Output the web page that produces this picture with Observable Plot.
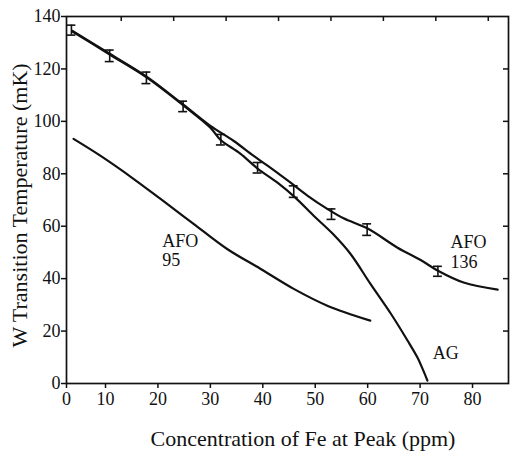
<!DOCTYPE html>
<html>
<head>
<meta charset="utf-8">
<script src="https://cdn.jsdelivr.net/npm/d3@7"></script>
<script src="https://cdn.jsdelivr.net/npm/@observablehq/plot@0.6"></script>
<style>
  html, body { margin: 0; padding: 0; background: #fff; }
</style>
</head>
<body>
<div id="chart"></div>
<script>
// ---- data ----
const afo136Conc = [3.7, 10.8, 17.9, 24.9, 30.0, 34.4, 38.2, 40.9, 45.3, 48.5, 52.3, 55.4, 60.0, 65.7, 70.1, 73.5, 78.3, 84.8];
const afo136Temp = [134.5, 125.8, 117.0, 106.3, 98.3, 92.6, 86.9, 83.1, 76.6, 71.7, 66.6, 63.0, 59.1, 51.8, 47.1, 42.9, 38.5, 35.8];

const agConc = [3.7, 10.8, 17.9, 24.9, 30.0, 31.9, 35.7, 39.0, 42.8, 46.2, 49.7, 53.3, 56.7, 60.5, 64.4, 67.6, 69.5, 70.6, 71.4];
const agTemp = [134.3, 125.5, 116.7, 106.0, 97.6, 93.0, 87.7, 82.0, 76.6, 70.9, 64.0, 57.2, 49.5, 38.1, 26.7, 16.4, 9.9, 5.0, 1.1];

const afo95Conc = [3.9, 9.0, 15.4, 20.5, 26.8, 33.2, 39.6, 45.9, 52.3, 60.5];
const afo95Temp = [93.3, 86.9, 78.0, 70.4, 60.9, 51.3, 43.7, 36.1, 29.7, 24.0];

const errConc = [3.5, 10.8, 17.8, 24.8, 32.0, 39.0, 45.9, 53.1, 59.9, 73.4];
const errTemp = [134.8, 125.0, 116.6, 105.7, 93.0, 82.3, 73.2, 64.6, 58.7, 42.8];
const errSize = [1.9, 2.2, 2.2, 2.0, 2.0, 2.0, 2.2, 2.0, 2.2, 1.9];

const curveLabels = ["AFO\n95", "AFO\n136", "AG"];
const labelConc = [20.8, 75.8, 72.4];
const labelTemp = [50.9, 50.2, 11.6];

const xTicks = [10, 20, 30, 40, 50, 60, 70, 80];
const xTopTicks = [13, 23, 33, 43, 53, 63, 73, 83];
const yTicks = [0, 20, 40, 60, 80, 100, 120, 140];
const yRightTicks = [20, 40, 60, 80, 100, 120];
const xDomain = [2.56, 86.86];
const yDomain = [0, 140];
const xTitle = "Concentration of Fe at Peak (ppm)";
const yTitle = "W Transition Temperature (mK)";

// ---- build tables ----
const toRows = (xs, ys) => xs.map((x, i) => ({x, y: ys[i]}));
const afo136 = toRows(afo136Conc, afo136Temp);
const ag = toRows(agConc, agTemp);
const afo95 = toRows(afo95Conc, afo95Temp);
const errs = errConc.map((x, i) => ({x, y: errTemp[i], e: errSize[i]}));
const labels = curveLabels.map((t, i) => ({t, x: labelConc[i], y: labelTemp[i]}));

const ink = "#111";
const capHalf = 0.85;

const chart = Plot.plot({
  width: 511,
  height: 452,
  marginLeft: 66,
  marginRight: 3,
  marginTop: 16,
  marginBottom: 69,
  style: {fontFamily: "'Liberation Serif', 'Times New Roman', serif", fontSize: "18px", color: ink, background: "#fff"},
  x: {domain: xDomain},
  y: {domain: yDomain},
  marks: [
    Plot.frame({stroke: ink, strokeWidth: 1.7}),
    // bottom axis with "0" at the corner
    Plot.axisX([xDomain[0], ...xTicks], {anchor: "bottom", tickSize: 5, tickPadding: 4,
      tickFormat: d => d < 5 ? "0" : String(d), label: null, fontSize: 18, strokeWidth: 1.5}),
    // top inward ticks
    Plot.axisX(xTopTicks, {anchor: "bottom", frameAnchor: "top", tickSize: 5, tickFormat: () => "", label: null, strokeWidth: 1.5}),
    Plot.axisY(yTicks, {anchor: "left", tickSize: 5, tickPadding: 1, label: null, fontSize: 18, strokeWidth: 1.5}),
    // right inward ticks
    Plot.axisY(yRightTicks, {anchor: "left", frameAnchor: "right", tickSize: 5, tickFormat: () => "", label: null, strokeWidth: 1.5}),
    Plot.line(afo95, {x: "x", y: "y", stroke: ink, strokeWidth: 2.2, curve: "catmull-rom"}),
    Plot.line(ag, {x: "x", y: "y", stroke: ink, strokeWidth: 2.2, curve: "catmull-rom"}),
    Plot.line(afo136, {x: "x", y: "y", stroke: ink, strokeWidth: 2.2, curve: "catmull-rom"}),
    Plot.ruleX(errs, {x: "x", y1: d => d.y - d.e, y2: d => d.y + d.e, stroke: ink, strokeWidth: 1.6}),
    Plot.ruleY(errs, {y: d => d.y + d.e, x1: d => d.x - capHalf, x2: d => d.x + capHalf, stroke: ink, strokeWidth: 1.6}),
    Plot.ruleY(errs, {y: d => d.y - d.e, x1: d => d.x - capHalf, x2: d => d.x + capHalf, stroke: ink, strokeWidth: 1.6}),
    Plot.text(labels, {x: "x", y: "y", text: "t", textAnchor: "start", lineAnchor: "middle", lineHeight: 1.08, fontSize: 18, fill: ink}),
    Plot.text([xTitle], {frameAnchor: "bottom", textAnchor: "middle", lineAnchor: "middle", dx: 15.5, dy: 55, fontSize: 22, fill: ink}),
    Plot.text([yTitle], {frameAnchor: "left", textAnchor: "middle", lineAnchor: "middle", rotate: -90, dx: -47, dy: 5.5, fontSize: 22, fill: ink})
  ]
});
document.getElementById("chart").appendChild(chart);
</script>
</body>
</html>
